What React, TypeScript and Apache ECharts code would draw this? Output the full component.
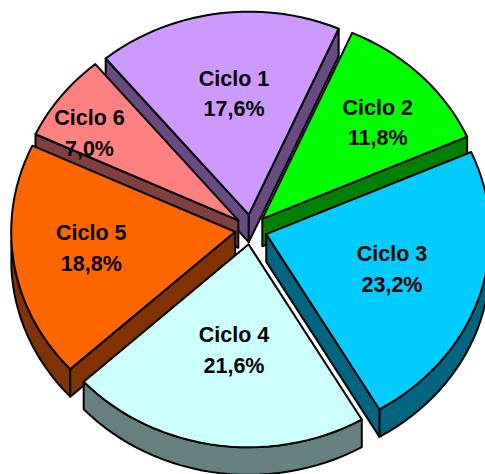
import React, { useEffect, useRef } from "react";
import * as echarts from "echarts";

const CATEGORIES = ["Ciclo 1", "Ciclo 2", "Ciclo 3", "Ciclo 4", "Ciclo 5", "Ciclo 6"];
const VALUES = [17.6, 11.8, 23.2, 21.6, 18.8, 7.0];
const TOP_COLORS = ["#CC99FF", "#00FF00", "#00CCFF", "#CCFFFF", "#FF6600", "#FF8080"];
const WALL_COLORS = ["#664C80", "#008000", "#006680", "#668080", "#803300", "#804040"];
const DRAW_ORDER = [0, 1, 5, 2, 4, 3];
const LABEL_REACH_X = [0.47, 0.73, 0.59, 0.44, 0.65, 0.84];
const LABEL_REACH_Y = [0.6, 0.667, 0.57, 0.53, 0.55, 0.7];

const CX = 251;
const CY = 229.5;
const RX = 224;
const RY = 203;
const DEPTH = 27.5;
const EXPLODE_X = 16;
const EXPLODE_Y = 15;
const START = -39.7;
const TOTAL = VALUES.reduce((s, v) => s + v, 0);

const rad = (d: number) => (d * Math.PI) / 180;
function span(i: number) {
  let a = START;
  for (let k = 0; k < i; k++) a += (VALUES[k] / TOTAL) * 360;
  return [a, a + (VALUES[i] / TOTAL) * 360];
}
function apexOf(i: number) {
  const [a, b] = span(i);
  const m = rad((a + b) / 2);
  return [CX + EXPLODE_X * Math.sin(m), CY - EXPLODE_Y * Math.cos(m)];
}
const LINE = { stroke: "#000", lineWidth: 2, lineJoin: "round" as const };

function renderSlice(_: any, api: any) {
  const i = api.value(0) as number;
  const [a, b] = span(i);
  const [ax, ay] = apexOf(i);
  const pts: number[][] = [];
  const steps = Math.max(4, Math.round((b - a) / 2.5));
  for (let s = 0; s <= steps; s++) {
    const t = rad(a + ((b - a) * s) / steps);
    pts.push([ax + RX * Math.sin(t), ay - RY * Math.cos(t)]);
  }
  const down = (p: number[]) => [p[0], p[1] + DEPTH];
  const poly = (points: number[][], fill: string) => ({
    type: "polygon",
    shape: { points },
    style: { fill, ...LINE },
  });
  const children: any[] = [];
  const wall = WALL_COLORS[i];
  const apex = [ax, ay];
  const first = pts[0];
  const last = pts[pts.length - 1];
  // arc wall: part of the rim that faces the viewer
  const rim = pts.filter((p, k) => {
    const t = a + ((b - a) * k) / steps;
    const n = ((t % 360) + 360) % 360;
    return n >= 90 && n <= 270;
  });
  if (rim.length > 1) {
    children.push(poly([...rim, ...rim.slice().reverse().map(down)], wall));
  }
  if (first[0] < ax) children.push(poly([apex, first, down(first), down(apex)], wall));
  if (last[0] > ax) children.push(poly([last, apex, down(apex), down(last)], wall));
  children.push(poly([apex, ...pts], TOP_COLORS[i]));
  return { type: "group", children };
}

function renderLabel(_: any, api: any) {
  const i = api.value(0) as number;
  const [a, b] = span(i);
  const [ax, ay] = apexOf(i);
  const m = rad((a + b) / 2);
  const x = ax + LABEL_REACH_X[i] * RX * Math.sin(m);
  const y = ay - LABEL_REACH_Y[i] * RY * Math.cos(m);
  const pct = VALUES[i].toFixed(1).replace(".", ",") + "%";
  const style = {
    fill: "#000",
    font: 'bold 21.5px "Liberation Sans", Arial, sans-serif',
    align: "center",
    verticalAlign: "middle",
  };
  return {
    type: "group",
    children: [
      { type: "text", x, y: y - 15.25, style: { ...style, text: CATEGORIES[i] } },
      { type: "text", x, y: y + 15.25, style: { ...style, text: pct } },
    ],
  };
}

export default function App() {
  const ref = useRef<HTMLDivElement>(null);
  useEffect(() => {
    document.body.style.margin = "0";
    const chart = echarts.init(ref.current!, undefined, { renderer: "svg" });
    const data = DRAW_ORDER.map((i) => [i, VALUES[i]]);
    chart.setOption({
      animation: false,
      backgroundColor: "#fff",
      series: [
        { type: "custom", coordinateSystem: "none", renderItem: renderSlice, data, silent: true, z: 1 },
        { type: "custom", coordinateSystem: "none", renderItem: renderLabel, data, silent: true, z: 2 },
      ],
    });
    return () => chart.dispose();
  }, []);
  return <div ref={ref} style={{ width: 485, height: 474 }} />;
}
